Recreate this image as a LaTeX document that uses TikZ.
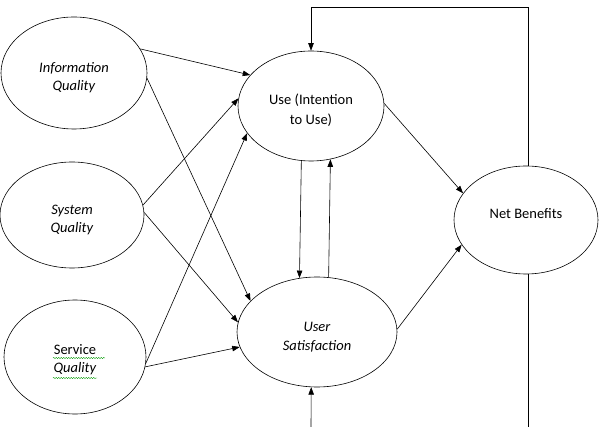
\documentclass[tikz,border=0pt]{standalone}
\usepackage{fontspec}
\setmainfont{Carlito}
\usetikzlibrary{arrows.meta,shapes.geometric,decorations.pathmorphing}
\tikzset{
	factor/.style={draw, ellipse, line width=0.6pt, inner sep=0pt},
	caption/.style={align=center, font=\fontsize{14.5}{18.5}\selectfont},
	link/.style={line width=0.6pt, -{Triangle[length=7.5pt,width=5.5pt]}},
	typo/.style={draw=green!60!black, line width=0.4pt, decorate, decoration={snake, amplitude=0.6pt, segment length=2.5pt}}
}

\begin{document}
\begin{tikzpicture}[x=1pt, y=-1pt]
		%%%%% START %%%%%
		\useasboundingbox (0, 0) rectangle (599, 427);
		
		\node[factor, minimum width=146pt, minimum height=112pt, label={[caption, yshift=-4.5pt]center:{\textit{Information}\\\textit{Quality}}}] (iq) at (74, 73) {};
		\node[factor, minimum width=144pt, minimum height=106pt, label={[caption, yshift=-5pt]center:{\textit{System}\\\textit{Quality}}}] (sq) at (72, 215) {};
		\node[factor, minimum width=142pt, minimum height=114pt, label={[caption, yshift=-2.5pt]center:{Service\\\textit{Quality}}}] (svq) at (75, 357) {};
		
		\node[factor, minimum width=146pt, minimum height=110pt, label={[caption, yshift=-4pt, font=\fontsize{14.5}{20}\selectfont]center:{Use (Intention\\to Use)}}] (use) at (311, 106) {};
		\node[factor, minimum width=160pt, minimum height=110pt, label={[caption, yshift=-5pt]center:{\textit{User}\\\textit{Satisfaction}}}] (us) at (317, 332) {};
		\node[factor, minimum width=144pt, minimum height=108pt, label={[caption, yshift=6pt]center:{Net Benefits}}] (nb) at (526, 220) {};
		
		\draw[typo] (53, 358) -- (105, 358);
		\draw[typo] (53, 378) -- (97, 378);
		
		\draw[link] (iq.20) -- (use.153);
		\draw[link] (iq.-4) -- (us.155);
		\draw[link] (sq.8) -- (use.174);
		\draw[link] (sq.2) -- (us.173);
		\draw[link] (svq.-5) -- (use.203);
		\draw[link] (svq.-8) -- (us.191);
		
		\draw[link] (use.260) -- (us.108);
		\draw[link] (us.78) -- (use.290);
		
		\draw[link] (use.2) -- (nb.157);
		\draw[link] (us.2) -- (nb.201);
		
		% feedback
		\coordinate (fbtop) at (311, 7);
		\coordinate (fbout) at (528, 427);
		\coordinate (fbin) at (311, 427);
		\draw[link] (fbout |- nb.north) |- (fbtop) -- (use.north);
		\draw[line width=0.6pt] (fbout |- nb.south) -- (fbout);
		\draw[link] (fbin) -- (us.264);
		
		%%%%% END %%%%%
\end{tikzpicture}
\end{document}
